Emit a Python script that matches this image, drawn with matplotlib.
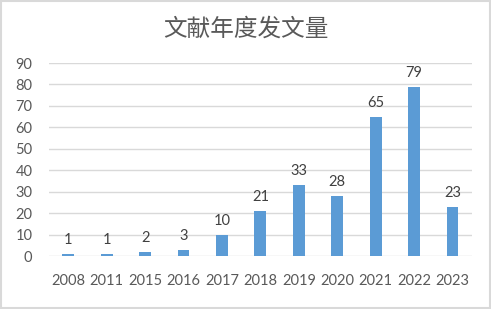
import matplotlib
matplotlib.use("Agg")
import matplotlib.pyplot as plt
from matplotlib.patches import Rectangle

years = ["2008", "2011", "2015", "2016", "2017", "2018", "2019", "2020", "2021", "2022", "2023"]
counts = [1, 1, 2, 3, 10, 21, 33, 28, 65, 79, 23]
y_ticks = [0, 10, 20, 30, 40, 50, 60, 70, 80, 90]
title = "文献年度发文量"

plt.rcParams['font.family'] = ['Lato', 'Noto Sans CJK SC', 'DejaVu Sans']
text_color = "#595959"
bar_color = "#5B9BD5"
grid_color = "#D9D9D9"

fig = plt.figure(figsize=(4.91, 3.09), dpi=100)
ax = fig.add_axes([0.0998, 0.1715, 0.861, 0.6246])

x = range(len(years))
ax.bar(x, counts, width=0.31, color=bar_color, zorder=3)

for i, v in zip(x, counts):
    ax.annotate(str(v), (i, v), xytext=(0, 5), textcoords="offset points",
                ha="center", va="bottom", fontsize=10.5, color="#404040")

ax.set_xlim(-0.5, len(years) - 0.5)
ax.set_ylim(0, 90)
ax.set_yticks(y_ticks)
ax.set_xticks(list(x))
ax.set_xticklabels(years)
ax.tick_params(axis="both", length=0, labelsize=10.5, labelcolor=text_color)
ax.tick_params(axis="x", pad=13)
ax.tick_params(axis="y", pad=12)
ax.yaxis.grid(True, color=grid_color, linewidth=1, zorder=0)
for s in ax.spines.values():
    s.set_visible(False)

fig.text(0.5, 0.905, title, ha="center", va="center", fontsize=17,
         color=text_color, family=['Noto Sans CJK SC', 'DejaVu Sans'], fontweight="light")

fig.patches.append(Rectangle((0.002, 0.003), 0.996, 0.994, transform=fig.transFigure,
                             fill=False, edgecolor=grid_color, linewidth=1.5))

fig.savefig("out.png", dpi=100, facecolor="white")
